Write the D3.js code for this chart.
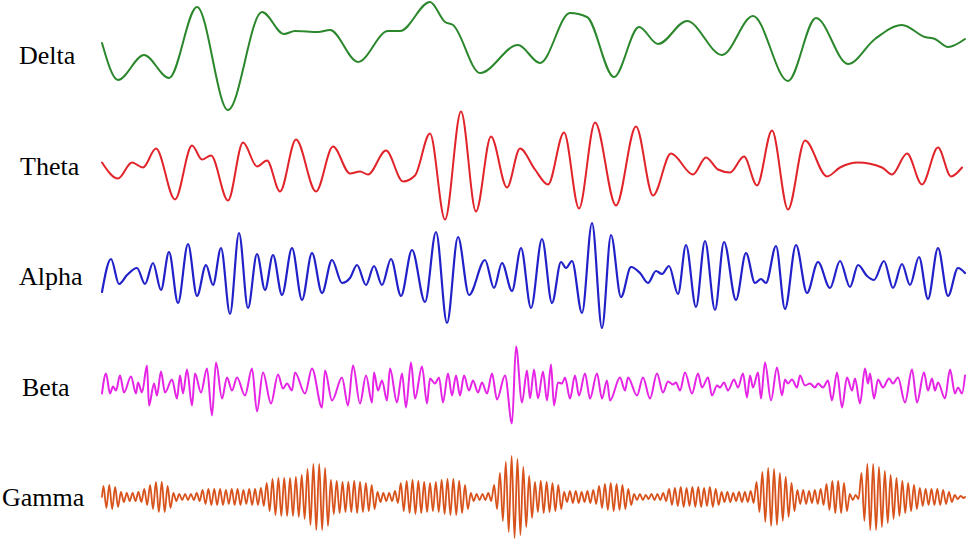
<!DOCTYPE html>
<html>

<head>
    <meta charset="utf-8">
    <style>
        body {
            margin: 0;
            background: #fff;
        }

        svg {
            display: block;
        }

        .band-label {
            font-family: "Times New Roman", "Liberation Serif", serif;
            font-size: 26px;
            fill: #000;
        }

        .wave {
            fill: none;
            stroke-linejoin: round;
            stroke-linecap: round;
        }
    </style>
</head>

<body>
    <svg width="968" height="540"></svg>

<script src="https://d3js.org/d3.v7.min.js"></script>
<script>

    // band names (top to bottom) and their trace colours
    let bands = ["Delta", "Theta", "Alpha", "Beta", "Gamma"]
    let bandColors = ["#2b872b", "#e1232a", "#2121c9", "#e524e5", "#d8521c"]

    // [time (ms), amplitude] at each turning point
    let delta = [
        [2, 12], [18, -25], [44, 0], [69, -23], [97, 48], [128, -55], [162, 43], [184, 21],
        [195, 24], [218, 23], [230, 25], [258, -7], [288, 24], [300, 24], [330, 53], [345, 33],
        [353, 30], [380, -18], [418, 10], [440, -8], [470, 42], [487, 38], [514, -22], [539, 28],
        [558, 11], [587, 34], [622, 0], [653, 39], [688, -26], [716, 37], [748, -9], [775, 16],
        [802, 30], [825, 18], [835, 16], [848, 8], [865, 16]
    ]

    let theta = [
        [2, 3], [18, -13], [32, 3], [43, -2], [56, 17], [75, -34], [92, 20], [102, 6],
        [111, 10], [128, -35], [143, 23], [157, -1], [167, 5], [180, -26], [196, 26], [216, -26],
        [233, 19], [250, -8], [260, -6], [268, -9], [286, 15], [303, -16], [315, -10], [330, 32],
        [345, -54], [361, 54], [376, -46], [391, 29], [407, -22], [420, 17], [435, -4], [448, -19],
        [464, 33], [479, -43], [495, 43], [516, -40], [536, 39], [553, -30], [571, 12], [593, -9],
        [606, 8], [618, -4], [630, -7], [644, 9], [657, -20], [672, 35], [688, -44], [705, 25],
        [727, -11], [740, -2], [758, 3], [782, -2], [792, -9], [807, 12], [822, -19], [838, 18],
        [851, -11], [862, -2]
    ]

    let alpha = [
        [2, -16], [11, 17], [19, -8], [27, 1], [37, 8], [45, -8], [53, 13], [61, -14],
        [69, 24], [78, -27], [88, 32], [97, -20], [106, 11], [113, -9], [121, 28], [130, -38],
        [139, 43], [148, -32], [157, 22], [165, -14], [173, 21], [182, -19], [192, 28], [202, -24],
        [212, 23], [222, -17], [232, 16], [242, -7], [250, -2], [257, 11], [266, -9], [274, 10],
        [282, -9], [291, 17], [301, -20], [312, 26], [325, -26], [336, 44], [347, -47], [358, 39],
        [369, -19], [385, 16], [394, -12], [402, 13], [412, -15], [421, 28], [431, -32], [442, 37],
        [452, -27], [461, 14], [466, 8], [472, 15], [482, -37], [492, 53], [502, -52], [511, 41],
        [521, -21], [531, 9], [540, 3], [548, -7], [556, 5], [562, 2], [569, 10], [578, -18],
        [586, 31], [596, -31], [605, 35], [615, -34], [624, 34], [636, -24], [646, 23], [655, -7],
        [661, -3], [666, -7], [676, 30], [685, -33], [696, 31], [707, -17], [718, 14], [730, -12],
        [740, 15], [750, -11], [758, 11], [767, 0], [774, -4], [784, 15], [793, -12], [802, 12],
        [810, -9], [819, 19], [828, -23], [838, 28], [848, -20], [858, 8], [865, 3]
    ]

    let beta = [
        [2, -7], [6, 13], [10, -7], [13, 0], [16, -4], [20, 11], [24, -6], [31, 10],
        [36, -7], [38, 4], [42, -6], [47, 21], [49, -19], [54, 3], [57, -9], [61, 15],
        [65, -6], [72, 7], [77, -12], [80, 11], [83, -7], [87, 17], [92, -19], [95, 13],
        [101, -6], [107, 18], [112, -29], [116, 24], [122, -12], [127, 9], [132, -4], [137, 9],
        [145, -9], [152, 18], [157, -25], [163, 14], [171, -17], [178, 12], [183, -2], [187, 3],
        [192, -4], [195, 14], [205, -7], [212, 18], [222, -21], [225, 16], [232, -14], [242, 9],
        [248, -19], [253, 21], [260, -17], [266, 11], [272, -16], [274, 14], [278, -4], [282, 6],
        [287, -14], [290, 18], [297, -16], [302, 13], [306, -21], [311, 24], [315, -12], [322, 20],
        [327, -17], [330, 8], [335, 3], [339, 9], [343, -16], [348, 13], [352, -9], [356, 11],
        [360, -9], [364, 11], [369, -4], [373, 6], [378, -6], [382, 4], [387, -7], [392, 13],
        [397, -13], [405, 11], [412, -37], [416, 40], [422, -16], [427, 16], [430, -12], [434, 17],
        [438, -12], [443, 15], [447, -14], [451, 22], [454, -19], [458, 4], [462, 3], [465, 9],
        [470, -12], [475, 11], [479, -9], [485, 13], [490, -12], [497, 13], [502, -12], [507, 6],
        [510, -14], [520, 9], [525, -4], [528, 9], [537, -9], [543, 9], [550, -12], [557, 13],
        [563, -6], [568, 5], [573, 2], [576, 4], [580, -4], [585, 14], [592, -7], [598, 13],
        [602, -1], [608, 9], [612, -9], [617, 1], [620, -1], [624, 4], [628, -4], [634, 7],
        [638, -1], [643, 13], [647, -11], [650, 11], [653, -1], [658, 14], [661, -12], [665, 24],
        [671, -14], [677, 19], [682, -9], [685, 7], [688, 3], [692, 7], [697, -1], [700, 11],
        [705, 1], [710, 3], [715, -1], [718, 3], [723, -1], [728, 6], [732, -14], [737, 14],
        [742, -21], [747, 9], [752, -4], [755, 8], [760, -17], [765, 18], [768, 3], [770, 13],
        [774, -12], [778, 7], [783, -1], [789, 8], [793, 3], [798, 9], [805, -16], [812, 17],
        [817, -16], [824, 14], [828, -4], [832, 8], [835, -4], [838, 4], [845, -12], [850, 17],
        [855, -7], [858, -1], [862, -7], [865, 11]
    ]

    // gamma: half peak-to-peak amplitude of each successive cycle
    let gammaCycles = [
        11, 12, 10, 5, 4, 4, 5, 8, 12, 15, 15, 11, 4, 3, 3, 3, 4,
        7, 8, 8, 8, 7, 8, 8, 7, 8, 8, 9,
        14, 18, 19, 19, 19, 20, 22, 28, 33, 33, 29,
        17, 16, 15, 15, 16, 15, 14, 12, 5, 4, 4, 6,
        14, 16, 17, 16, 15, 14, 15, 17, 18, 18, 16, 12, 4, 3, 3, 4,
        12, 24, 35, 41, 38, 30, 21, 15, 16, 15, 14, 12,
        5, 6, 6, 5, 6, 7, 11, 13, 14, 13, 12, 8, 3, 3, 2, 3, 3, 4,
        8, 9, 10, 9, 10, 10, 9, 10, 8, 5, 5, 4, 5, 5, 6,
        15, 25, 29, 28, 24, 20, 14, 7, 7, 6, 7, 8, 13, 16, 16, 14, 3, 2,
        24, 33, 33, 30, 26, 22, 19, 16, 14, 12, 9, 8, 8, 8, 7, 5, 2, 1
    ]
    let gammaStart = 2
    let gammaEnd = 865

    let svg = d3.select("svg")

    let x = d3.scaleLinear().domain([0, 866]).range([100, 966])
    let row = d3.scalePoint().domain(bands).range([55, 497])
    let amp = d3.scaleLinear().domain([-60, 60]).range([60, -60])
    let color = d3.scaleOrdinal().domain(bands).range(bandColors)

    // gamma turning points: one peak and one trough per cycle
    let half = d3.scaleLinear().domain([0, gammaCycles.length * 2]).range([gammaStart, gammaEnd])
    let gamma = [[gammaStart, 0]]
    gammaCycles.forEach((a, i) => {
        gamma.push([half(2 * i + 0.5), a])
        gamma.push([half(2 * i + 1.5), -a])
    })
    gamma.push([gammaEnd, 0])

    let series = { Delta: delta, Theta: theta, Alpha: alpha, Beta: beta, Gamma: gamma }
    let widths = { Delta: 2, Theta: 2, Alpha: 2.2, Beta: 2, Gamma: 1.8 }

    bands.forEach(name => {
        let line = d3.line()
            .x(d => x(d[0]))
            .y(d => row(name) + amp(d[1]))
            .curve(d3.curveMonotoneX)

        svg.append("path")
            .datum(series[name])
            .attr("class", "wave")
            .attr("stroke", color(name))
            .attr("stroke-width", widths[name])
            .attr("d", line)
    })

    // labels on the left
    let labelX = { Delta: 19, Theta: 20, Alpha: 19, Beta: 22, Gamma: 2 }

    svg.append("g")
        .selectAll("text")
        .data(bands)
        .join("text")
        .attr("class", "band-label")
        .attr("x", d => labelX[d])
        .attr("y", d => row(d) + 9)
        .text(d => d)

</script>
</body>

</html>
